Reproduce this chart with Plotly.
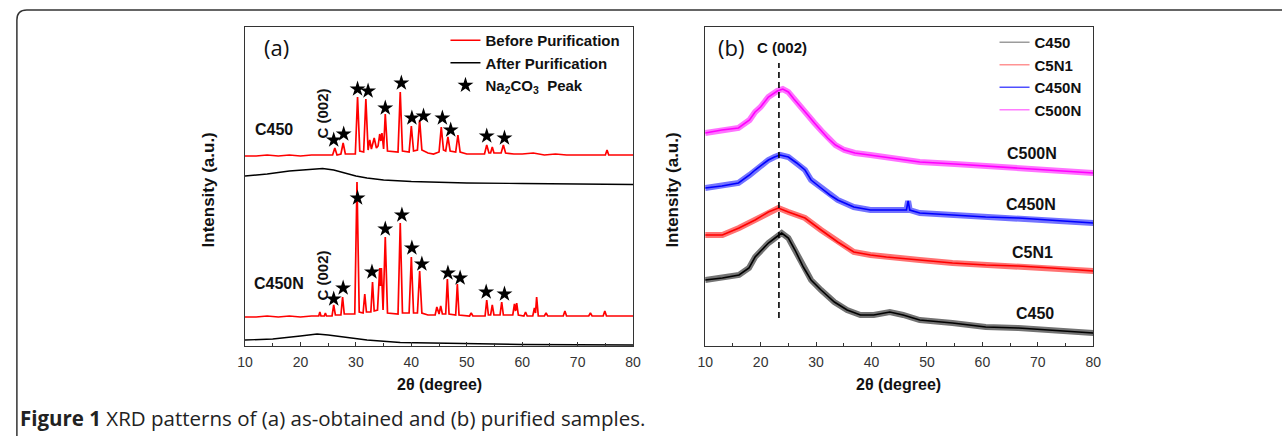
import plotly.graph_objects as go

FONT = "Liberation Sans, Arial, sans-serif"
W, H = 1282, 436

# ---------------- data: panel (a) ----------------
A_C450_BEFORE_X = [10, 12, 14, 16, 18, 20, 22, 24, 25.8, 26.2, 26.6, 27.3, 27.7, 28.1, 29.9, 30.3,
                   30.7, 31.4, 31.8, 32.2, 32.5, 32.8, 33.3, 33.7, 34.0, 34.3, 34.5, 34.7, 35.0, 35.3,
                   35.7, 37.6, 38.0, 38.4, 39.6, 40.0, 40.4, 41.1, 41.5, 41.9, 43.0, 44.0, 45.0, 45.4,
                   45.8, 46.2, 46.6, 47.0, 48.0, 48.4, 48.8, 50.0, 52.0, 53.2, 53.6, 54.0, 54.3, 54.6,
                   54.9, 56.2, 56.6, 57.0, 58.5, 60.0, 62.0, 64.0, 66.0, 68.0, 70.0, 72.0, 74.0, 75.0,
                   75.3, 75.6, 77.0, 80.0]
A_C450_BEFORE_Y = [190, 190, 191, 190, 191, 190, 191, 191, 191, 198, 191, 192, 203, 192, 192, 249,
                   195, 194, 247, 196, 206, 197, 208, 198, 200, 212, 205, 213, 197, 232,
                   195, 194, 254, 195, 194, 220, 195, 196, 226, 196, 193, 192, 194, 219,
                   196, 195, 209, 195, 194, 211, 194, 192, 192, 192, 201, 193, 193, 199,
                   193, 193, 201, 193, 192, 192, 193, 191, 192, 191, 191, 191, 191, 191,
                   196, 191, 191, 191]

A_C450_AFTER_X = [10, 14, 18, 22, 24, 26, 28, 30, 32, 35, 40, 50, 60, 70, 80]
A_C450_AFTER_Y = [170, 172, 175, 177, 177.5, 176, 173, 170, 168, 166, 164.5, 163, 162.5, 162, 161.5]

A_C450N_BEFORE_X = [10, 12, 14, 16, 18, 20, 22, 23.3, 23.5, 23.7, 24.3, 24.5, 24.7, 25.7, 26.0, 26.3,
                    27.3, 27.6, 27.9, 29.8, 30.2, 30.6, 31.3, 31.6, 31.9, 32.7, 33.0, 33.3, 33.9, 34.3,
                    34.45, 34.6, 34.9, 35.3, 35.7, 37.6, 38.0, 38.4, 39.6, 40.0, 40.4, 41.1, 41.5, 41.9,
                    43.0, 44.3, 44.6, 44.9, 45.0, 45.3, 45.6, 46.2, 46.5, 46.8, 48.0, 48.3, 48.6, 50.5,
                    50.8, 51.1, 53.3, 53.6, 53.9, 54.3, 54.6, 54.9, 56.0, 56.3, 56.6, 58.3, 58.6, 58.8,
                    59.0, 59.3, 60.3, 60.6, 60.9, 61.9, 62.2, 62.4, 62.6, 62.9, 64.0, 64.3, 64.6, 67.4,
                    67.7, 68.0, 70.0, 72.0, 72.3, 72.6, 74.6, 74.9, 75.2, 77.0, 80.0]
A_C450N_BEFORE_Y = [29, 29, 30, 29, 30, 29, 30, 30, 34, 30, 30, 33, 30, 30, 41, 31,
                    31, 49, 32, 32, 164, 34, 33, 52, 34, 34, 64, 35, 36, 78,
                    60, 78, 36, 109, 33, 32, 123, 33, 33, 89, 33, 33, 75, 33,
                    31, 31, 39, 32, 32, 40, 32, 32, 67, 32, 31, 62, 31, 30,
                    33, 30, 30, 46, 31, 31, 41, 31, 31, 44, 31, 31, 42, 35,
                    43, 31, 30, 34, 30, 30, 38, 33, 49, 30, 30, 33, 30, 30,
                    35, 30, 30, 30, 33, 30, 30, 35, 30, 30, 30]

A_C450N_AFTER_X = [10, 15, 20, 23, 25, 28, 32, 38, 50, 60, 80]
A_C450N_AFTER_Y = [6, 7, 10, 12, 11, 9, 6, 3.5, 2, 1.5, 1]

STARS_C450_X = [26.0, 27.8, 30.3, 32.2, 35.3, 38.2, 40.1, 42.2, 45.6, 47.1, 53.6, 56.8]
STARS_C450_Y = [206, 212, 257, 255, 238, 263, 228, 230, 228, 216, 210, 208]
STARS_C450N_X = [26.0, 27.7, 30.3, 32.9, 35.3, 38.3, 40.1, 41.9, 46.6, 48.8, 53.5, 56.8]
STARS_C450N_Y = [47, 58, 148, 74, 117, 131, 98, 82, 73, 68, 54, 52]

# ---------------- data: panel (b) ----------------
B_C500N_X = [10, 13, 16, 18, 19, 20, 21.4, 23, 24, 25, 26, 27.3, 28.5, 29.7, 31, 32.1, 33.5, 35.1,
             37, 39.8, 42, 45, 48.7, 55, 60.6, 66, 72.5, 76, 80]
B_C500N_Y = [213, 216, 218, 226, 234, 239, 249, 255, 257, 254, 247, 239, 231, 223, 215, 208, 201, 196,
             193, 191, 189, 187, 184, 182, 180, 178, 176, 175, 173]
B_C450N_X = [10, 13, 16, 18, 19, 20, 21.4, 22.5, 23.5, 25, 26.5, 28, 29.1, 30.9, 32.5, 33.9, 36.8,
             39.8, 42.7, 46.3, 46.6, 46.9, 48.7, 54.6, 60.6, 66.5, 72.5, 80]
B_C450N_Y = [158, 160, 163, 171, 176, 180, 186, 189, 191, 189, 183, 176, 166, 158, 151, 146, 139,
             136, 136, 136, 145, 136, 133, 131, 129, 128, 126, 123]
B_C5N1_X = [10, 13.1, 16.1, 19, 21.4, 23.2, 25, 28, 30.9, 33.9, 36.8, 39.8, 42.7, 48.7, 54.6, 60.6,
            66.5, 72.5, 80]
B_C5N1_Y = [111, 111, 118, 126, 134, 138, 134, 128, 116, 104, 94, 91, 89, 86, 83, 81,
            80, 78, 75]
B_C450_X = [10, 13.1, 16.1, 17.9, 19, 21.4, 22.6, 23.8, 25, 26.2, 27.7, 29.1, 30.9, 33.3, 35.6, 38,
            40.4, 43.3, 45.7, 48.7, 54.6, 60.6, 66.5, 72.5, 80]
B_C450_Y = [66, 68, 71, 78, 89, 103, 108, 113, 108, 96, 79, 66, 56, 44, 36, 31,
            31, 34, 31, 26, 23, 19, 18, 16, 13]
B_C002_X = [23.3, 23.3]
B_C002_Y = [28, 283]

for a, b in [(A_C450_BEFORE_X, A_C450_BEFORE_Y), (A_C450_AFTER_X, A_C450_AFTER_Y),
             (A_C450N_BEFORE_X, A_C450N_BEFORE_Y), (A_C450N_AFTER_X, A_C450N_AFTER_Y),
             (B_C500N_X, B_C500N_Y), (B_C450N_X, B_C450N_Y), (B_C5N1_X, B_C5N1_Y),
             (B_C450_X, B_C450_Y)]:
    assert len(a) == len(b)

RED, BLUE, MAG = "#ff0000", "#0000ff", "#ff00ff"

fig = go.Figure()

# ----- panel (a) traces -----
fig.add_trace(go.Scatter(x=A_C450_BEFORE_X, y=A_C450_BEFORE_Y, mode="lines", name="Before Purification",
                         line=dict(color=RED, width=1.7), legend="legend", legendrank=1))
fig.add_trace(go.Scatter(x=A_C450N_BEFORE_X, y=A_C450N_BEFORE_Y, mode="lines", showlegend=False,
                         line=dict(color=RED, width=1.7)))
fig.add_trace(go.Scatter(x=A_C450_AFTER_X, y=A_C450_AFTER_Y, mode="lines", name="After Purification",
                         line=dict(color="black", width=1.4), legend="legend", legendrank=2))
fig.add_trace(go.Scatter(x=A_C450N_AFTER_X, y=A_C450N_AFTER_Y, mode="lines", showlegend=False,
                         line=dict(color="black", width=1.4)))
fig.add_trace(go.Scatter(x=STARS_C450_X, y=STARS_C450_Y, mode="markers",
                         name="Na<sub>2</sub>CO<sub>3</sub>  Peak",
                         marker=dict(symbol="star", size=12, color="black"), legend="legend", legendrank=3))
fig.add_trace(go.Scatter(x=STARS_C450N_X, y=STARS_C450N_Y, mode="markers", showlegend=False,
                         marker=dict(symbol="star", size=12, color="black")))

# ----- panel (b) traces -----
B_SERIES = [("C450", B_C450_X, B_C450_Y, "black", "rgba(90,90,90,0.6)"),
            ("C5N1", B_C5N1_X, B_C5N1_Y, RED, "rgba(255,120,120,0.8)"),
            ("C450N", B_C450N_X, B_C450N_Y, BLUE, "rgba(60,60,255,0.9)"),
            ("C500N", B_C500N_X, B_C500N_Y, MAG, "rgba(255,110,255,0.9)")]
for i, (nm, xs, ys, col, lcol) in enumerate(B_SERIES):
    fig.add_trace(go.Scatter(x=xs, y=ys, mode="lines", xaxis="x2", yaxis="y2", showlegend=False,
                             line=dict(color=col, width=6), opacity=0.55, hoverinfo="skip"))
    fig.add_trace(go.Scatter(x=xs, y=ys, mode="lines", xaxis="x2", yaxis="y2", showlegend=False,
                             line=dict(color=col, width=1.6)))
    fig.add_trace(go.Scatter(x=[None], y=[None], mode="lines", xaxis="x2", yaxis="y2", name=nm,
                             line=dict(color=lcol, width=1.3), legend="legend2", legendrank=i + 1))
fig.add_trace(go.Scatter(x=B_C002_X, y=B_C002_Y, mode="lines", xaxis="x2", yaxis="y2", showlegend=False,
                         line=dict(color="black", width=1.6, dash="6px,4px")))

# ----- axes -----
YDOM = [(H - 346) / H, (H - 27) / H]
axis_common = dict(showline=True, mirror=True, linecolor="#333", linewidth=1.3, showgrid=False,
                   zeroline=False)
xcommon = dict(axis_common, range=[10, 80], tickmode="array", tickvals=[10, 20, 30, 40, 50, 60, 70, 80],
               ticks="inside", ticklen=4, tickwidth=1, tickcolor="#333", ticklabelstandoff=3,
               minor=dict(dtick=5, ticks="inside", ticklen=3, tickcolor="#333", tick0=5),
               tickfont=dict(family=FONT, size=14, color="#333"))
ycommon = dict(axis_common, range=[0, 319], showticklabels=False, ticks="")

LEG_FONT = dict(family=FONT, size=15, color="#111", weight="bold")
fig.update_layout(
    width=W, height=H, margin=dict(l=0, r=0, t=0, b=0),
    paper_bgcolor="white", plot_bgcolor="white",
    xaxis=dict(xcommon, domain=[240 / W, 633 / W], anchor="y"),
    yaxis=dict(ycommon, domain=YDOM, anchor="x"),
    xaxis2=dict(xcommon, domain=[706 / W, 1099 / W], anchor="y2"),
    yaxis2=dict(ycommon, domain=YDOM, anchor="x2"),
    legend=dict(x=443 / W, y=(H - 24) / H, xanchor="left", yanchor="top", bgcolor="rgba(0,0,0,0)",
                font=LEG_FONT, tracegroupgap=0, itemwidth=30, traceorder="normal"),
    legend2=dict(x=999 / W, y=(H - 26) / H, xanchor="left", yanchor="top", bgcolor="rgba(0,0,0,0)",
                 font=LEG_FONT, tracegroupgap=0, itemwidth=30, traceorder="normal"),
)

ann = []
def lab(text, x, y, ref="", size=16, bold=True, angle=0, family=FONT):
    ann.append(dict(text=text, x=x, y=y, xref="x" + ref, yref="y" + ref, showarrow=False,
                    textangle=angle, xanchor="center", yanchor="middle",
                    font=dict(family=family, size=size, color="#111",
                              weight="bold" if bold else "normal")))

lab("(a)", 15.7, 299, size=22, bold=False, family="Open Sans, sans-serif")
lab("C450", 15.3, 217)
lab("C450N", 16.1, 63)
lab("C (002)", 23.8, 232, size=15, angle=-90)
lab("C (002)", 23.8, 70, size=15, angle=-90)
lab("(b)", 14.6, 299, ref="2", size=22, bold=False, family="Open Sans, sans-serif")
lab("C (002)", 23.9, 299, ref="2", size=15)
lab("C500N", 69.0, 193, ref="2")
lab("C450N", 68.8, 142, ref="2")
lab("C5N1", 69.0, 94, ref="2")
lab("C450", 69.5, 33, ref="2")

for xc in (437, 902):
    ann.append(dict(text="2θ (degree)", x=xc / W, y=(H - 384) / H, xref="paper", yref="paper",
                    xanchor="center", yanchor="middle", showarrow=False,
                    font=dict(family=FONT, size=16, color="#111", weight="bold")))
for xc in (203, 672):
    ann.append(dict(text="Intensity (a.u.)", x=xc / W, y=(H - 190) / H, xref="paper", yref="paper",
                    xanchor="center", yanchor="middle", showarrow=False, textangle=-90,
                    font=dict(family=FONT, size=17, color="#111", weight="bold")))
ann.append(dict(text="<b>Figure 1</b> XRD patterns of (a) as-obtained and (b) purified samples.",
                x=10 / W, y=(H - 418) / H, xref="paper", yref="paper", xanchor="left", yanchor="middle",
                showarrow=False, font=dict(family="Open Sans, sans-serif", size=20.5, color="#222")))
fig.update_layout(annotations=ann)

# outer rounded frame
x0, yt, r = 9 / W, (H - 10) / H, 10
fig.add_shape(type="path", xref="paper", yref="paper",
              path=f"M {x0},-0.05 L {x0},{(H - 10 - r) / H} Q {x0},{yt} {(9 + r) / W},{yt} L 1.05,{yt}",
              line=dict(color="#333", width=1.5))

fig.write_html("out.html", config={"displayModeBar": False},
               post_script="document.body.style.margin='0';document.body.style.overflow='hidden';")
